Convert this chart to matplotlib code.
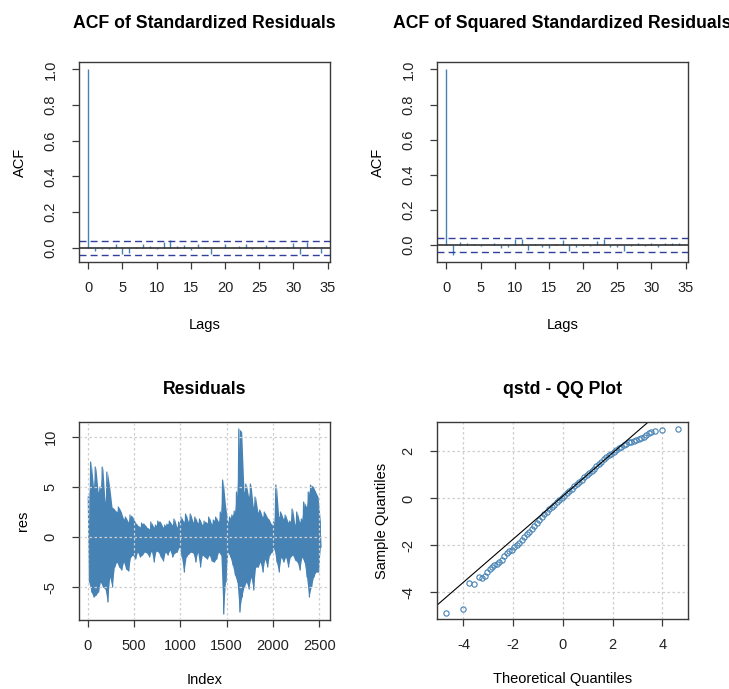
import matplotlib

matplotlib.use("Agg")
import matplotlib.pyplot as plt
from matplotlib.ticker import FormatStrFormatter

plt.rcParams["font.family"] = ["Liberation Sans", "DejaVu Sans"]
plt.rcParams["axes.unicode_minus"] = False
plt.rcParams["path.simplify"] = False

BLUE = "#4682B4"
CI_COL = "#30409a"
GRID = "#cfcfcf"

# ---------- data ----------
LAGS = list(range(35))
ACF_RES = [1.0, -0.019, -0.01, -0.01, 0.022, -0.034, -0.028, 0.005, 0.02, 0.01,
           -0.01, 0.03, 0.04, 0.01, 0.015, -0.015, 0.02, 0.005, -0.035, -0.005,
           0.02, -0.005, 0.01, 0.02, -0.01, -0.005, 0.015, -0.01, -0.005, 0.005,
           0.025, -0.035, 0.03, 0.005, -0.03]
ACF_SQ = [1.0, -0.054, 0.02, 0.01, 0.005, -0.005, 0.003, 0.012, -0.015, -0.008,
          0.035, 0.035, -0.025, 0.005, -0.008, -0.015, 0.004, 0.03, -0.035, -0.008,
          -0.005, -0.005, 0.025, 0.035, -0.008, -0.01, -0.035, -0.005, 0.01, -0.005,
          0.01, -0.008, 0.01, 0.01, 0.012]
CI = 0.039

# residuals: max / min read per block of 25 observations
RES_HI = [4.0, 7.5, 5.0, 7.0, 4.5, 5.0, 7.0, 3.5, 6.5, 5.0,
          3.0, 2.8, 2.5, 3.0, 2.5, 1.8, 2.0, 1.5, 2.2, 2.0,
          1.5, 1.2, 1.0, 1.4, 1.3, 1.0, 0.8, 1.5, 1.0, 1.2,
          1.6, 1.5, 1.0, 1.2, 1.3, 1.6, 1.2, 1.8, 1.0, 1.5,
          2.0, 1.5, 2.3, 1.5, 2.3, 1.5, 2.0, 1.4, 1.8, 1.2,
          1.6, 1.4, 2.0, 1.3, 1.7, 2.0, 1.5, 2.5, 5.7, 3.2,
          1.5, 2.0, 2.2, 2.6, 4.5, 10.8, 10.5, 4.5, 5.3, 4.0,
          5.3, 3.0, 4.0, 2.5, 2.7, 2.0, 2.5, 2.0, 1.7, 1.2,
          1.5, 5.2, 2.0, 2.5, 1.8, 2.2, 1.5, 1.6, 2.8, 1.2,
          2.5, 1.5, 1.8, 3.5, 3.0, 4.5, 5.2, 5.0, 4.5, 4.0,
          1.5]
RES_LO = [-4.5, -5.5, -6.0, -5.8, -5.5, -4.5, -5.0, -5.2, -6.5, -4.0,
          -5.0, -3.0, -2.5, -3.0, -3.3, -2.5, -3.2, -3.4, -2.0, -1.8,
          -2.2, -1.5, -2.0, -1.8, -1.5, -1.6, -2.0, -1.4, -2.5, -1.4,
          -1.5, -2.0, -2.4, -1.5, -1.8, -1.3, -2.0, -1.6, -1.5, -1.0,
          -2.0, -3.5, -2.0, -1.7, -1.5, -1.6, -2.5, -1.5, -3.0, -1.8,
          -2.0, -2.2, -1.8, -2.4, -2.5, -2.2, -1.5, -1.8, -7.7, -4.5,
          -1.5, -2.0, -2.8, -3.8, -4.5, -7.5, -6.0, -5.0, -4.5, -5.2,
          -4.0, -5.3, -3.0, -3.0, -2.5, -3.5, -2.2, -3.0, -1.8, -1.5,
          -1.2, -2.5, -3.5, -2.0, -2.5, -2.0, -3.0, -2.0, -1.8, -2.3,
          -2.5, -3.3, -2.0, -2.5, -4.0, -6.0, -5.0, -4.0, -3.5, -3.5,
          -1.0]
BLOCK = 25

# QQ plot points (theoretical, sample)
QQ_THEO = [-4.70, -4.03, -3.76, -3.58, -3.36, -3.25, -3.15, -3.05, -2.95, -2.85,
           -2.75, -2.65, -2.55, -2.45, -2.35, -2.25, -2.15, -2.05, -1.95, -1.85,
           -1.75, -1.65, -1.55, -1.45, -1.35, -1.25, -1.15, -1.05, -0.95, -0.85,
           -0.75, -0.65, -0.55, -0.45, -0.35, -0.25, -0.15, -0.05, 0.05, 0.15,
           0.25, 0.35, 0.45, 0.55, 0.65, 0.75, 0.85, 0.95, 1.05, 1.15,
           1.25, 1.35, 1.45, 1.55, 1.65, 1.75, 1.85, 1.95, 2.05, 2.15,
           2.25, 2.35, 2.45, 2.55, 2.65, 2.75, 2.85, 2.95, 3.05, 3.15,
           3.25, 3.36, 3.47, 3.56, 3.69, 4.00, 4.63]
QQ_SAMP = [-4.87, -4.72, -3.59, -3.62, -3.36, -3.38, -3.28, -3.15, -3.00, -2.93,
           -2.85, -2.78, -2.72, -2.60, -2.45, -2.33, -2.22, -2.18, -2.08, -1.98,
           -1.88, -1.77, -1.65, -1.52, -1.42, -1.30, -1.17, -1.05, -0.93, -0.80,
           -0.67, -0.57, -0.46, -0.36, -0.27, -0.17, -0.08, 0.02, 0.12, 0.22,
           0.32, 0.42, 0.51, 0.61, 0.70, 0.80, 0.90, 0.99, 1.08, 1.18,
           1.27, 1.37, 1.47, 1.57, 1.66, 1.76, 1.84, 1.91, 1.97, 2.05,
           2.13, 2.20, 2.27, 2.33, 2.38, 2.42, 2.46, 2.50, 2.53, 2.56,
           2.62, 2.70, 2.78, 2.84, 2.88, 2.91, 2.95]
QQ_LINE = [(-5.06, -4.54), (3.43, 3.25)]


def r_style(ax):
    for s in ax.spines.values():
        s.set_color("#3a3a3a")
        s.set_linewidth(1.0)
    ax.tick_params(direction="out", length=5, width=0.9, color="#3a3a3a",
                   labelsize=10.5, labelcolor="#222222")
    ax.tick_params(axis="x", pad=9)
    ax.tick_params(axis="y", pad=10.5, labelrotation=90)
    for lab in ax.get_yticklabels():
        lab.set_va("center")


fig = plt.figure(figsize=(7.29, 6.89), dpi=100)
ax1 = fig.add_axes([0.1084, 0.6197, 0.3443, 0.2903])
ax2 = fig.add_axes([0.5995, 0.6197, 0.3443, 0.2903])
ax3 = fig.add_axes([0.1084, 0.1001, 0.3443, 0.2874])
ax4 = fig.add_axes([0.5995, 0.1016, 0.3443, 0.2859])

TITLE_KW = dict(fontsize=12.7, fontweight="bold")

# ---------- ACF panels ----------
for ax, vals, title, ylim in [(ax1, ACF_RES, "ACF of Standardized Residuals", (-0.081, 1.042)),
                              (ax2, ACF_SQ, "ACF of Squared Standardized Residuals", (-0.096, 1.042))]:
    ax.vlines(LAGS, 0, vals, color=BLUE, linewidth=1.0)
    ax.axhline(0, color="#333333", linewidth=1.2)
    ax.axhline(CI, color=CI_COL, linestyle=(0, (5, 3)), linewidth=1.0)
    ax.axhline(-CI, color=CI_COL, linestyle=(0, (5, 3)), linewidth=1.0)
    ax.set_xlim(-1.36, 35.36)
    ax.set_ylim(*ylim)
    ax.set_xticks(range(0, 36, 5))
    ax.set_yticks([0.0, 0.2, 0.4, 0.6, 0.8, 1.0])
    ax.yaxis.set_major_formatter(FormatStrFormatter("%.1f"))
    ax.set_title(title, pad=24.5, **TITLE_KW)
    ax.set_xlabel("Lags", fontsize=10.5, labelpad=16)
    ax.set_ylabel("ACF", fontsize=10.5, labelpad=12)
    r_style(ax)

# ---------- residuals ----------
idx, res = [], []
for i, (hi, lo) in enumerate(zip(RES_HI, RES_LO)):
    idx += [i * BLOCK + 6.25, i * BLOCK + 18.75]
    res += [hi, lo]
centres = [i * BLOCK + 12.5 for i in range(len(RES_HI))]
ax3.fill_between(centres, RES_LO, RES_HI, color=BLUE, linewidth=0)
ax3.plot(idx, res, color=BLUE, linewidth=0.9)
ax3.set_xlim(-94, 2616)
ax3.set_ylim(-8.3, 11.5)
ax3.set_xticks(range(0, 2501, 500))
ax3.set_yticks([-5, 0, 5, 10])
ax3.grid(True, color=GRID, linestyle=(0, (2, 2)), linewidth=0.9)
ax3.set_axisbelow(False)
ax3.set_title("Residuals", pad=20, **TITLE_KW)
ax3.set_xlabel("Index", fontsize=10.5, labelpad=14)
ax3.set_ylabel("res", fontsize=10.5, labelpad=10)
r_style(ax3)

# ---------- QQ plot ----------
ax4.grid(True, color=GRID, linestyle=(0, (2, 2)), linewidth=0.9)
ax4.set_axisbelow(True)
ax4.plot(QQ_THEO, QQ_SAMP, "o", markersize=3.8, markerfacecolor="none",
         markeredgecolor=BLUE, markeredgewidth=0.8)
ax4.axline(QQ_LINE[0], QQ_LINE[1], color="black", linewidth=0.8)
ax4.set_xlim(-5.06, 5.03)
ax4.set_ylim(-5.13, 3.25)
ax4.set_xticks([-4, -2, 0, 2, 4])
ax4.set_yticks([-4, -2, 0, 2])
ax4.set_title("qstd - QQ Plot", pad=20, **TITLE_KW)
ax4.set_xlabel("Theoretical Quantiles", fontsize=10.5, labelpad=14)
ax4.set_ylabel("Sample Quantiles", fontsize=10.5, labelpad=9)
r_style(ax4)

fig.savefig("out.png", dpi=100)
